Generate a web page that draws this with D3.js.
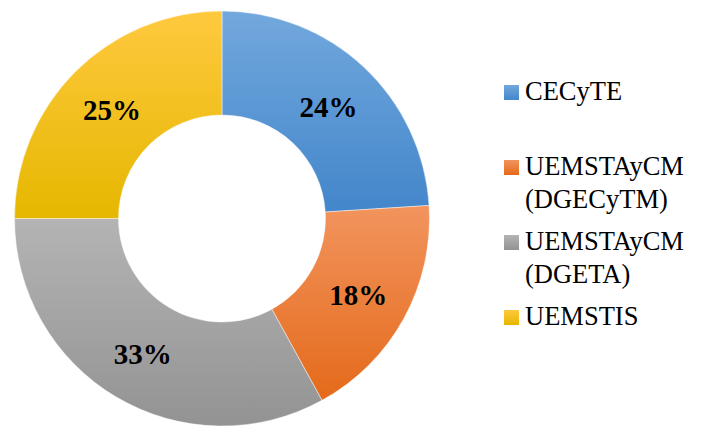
<!DOCTYPE html>
<html>
<head>
<meta charset="utf-8">
<script src="https://cdn.jsdelivr.net/npm/d3@7"></script>
<style>
  body { margin: 0; background: #fff; }
  #chart { position: relative; width: 702px; height: 433px; }
  #chart svg { position: absolute; left: 0; top: 0; }
  .keyText { position: absolute; font-family: "Liberation Serif", "Times New Roman", serif; font-size: 26.5px; line-height: 32.5px; color: #000; white-space: nowrap; }
</style>
</head>
<body>
<div id="chart"></div>
<script>
// Data
var categories = ["CECyTE", "UEMSTAyCM (DGECyTM)", "UEMSTAyCM (DGETA)", "UEMSTIS"];
var values = [24, 18, 33, 25];

// Colours: top / bottom of each slice gradient
var colorsTop = ["#72a8dd", "#f2945e", "#b4b4b4", "#ffc93f"];
var colorsBottom = ["#4386ca", "#e46a1a", "#939393", "#e6b700"];

var width = 702;
var height = 433;
var cx = 222;
var cy = 218.5;
var outerR = 207.5;
var innerR = 103.5;
var serif = "'Liberation Serif', 'Times New Roman', serif";

var svg = d3.select("#chart")
  .append("svg")
  .attr("width", width)
  .attr("height", height);

var defs = svg.append("defs");

categories.forEach(function(c, i) {
  var grad = defs.append("linearGradient")
    .attr("id", "grad" + i)
    .attr("x1", 0).attr("y1", 0)
    .attr("x2", 0).attr("y2", 1);
  grad.append("stop").attr("offset", "0%").attr("stop-color", colorsTop[i]);
  grad.append("stop").attr("offset", "100%").attr("stop-color", colorsBottom[i]);
});

var pie = d3.pie().sort(null).value(function(d) { return d; });
var arc = d3.arc().innerRadius(innerR).outerRadius(outerR);

var arcs = pie(values);

var g = svg.append("g").attr("transform", "translate(" + cx + "," + cy + ")");

g.selectAll("path.slice")
  .data(arcs)
  .enter()
  .append("path")
  .attr("class", "slice")
  .attr("d", arc)
  .attr("fill", function(d, i) { return "url(#grad" + i + ")"; })
  .attr("stroke", "#fff")
  .attr("stroke-opacity", 0.6)
  .attr("stroke-width", 0.75);

g.selectAll("text.pctLabel")
  .data(arcs)
  .enter()
  .append("text")
  .attr("class", "pctLabel")
  .attr("text-anchor", "middle")
  .attr("x", function(d) { return arc.centroid(d)[0]; })
  .attr("y", function(d) { return arc.centroid(d)[1]; })
  .attr("dy", "0.4em")
  .style("font-family", serif)
  .style("font-weight", "bold")
  .style("font-size", "29px")
  .style("fill", "#000")
  .text(function(d) { return d.value + "%"; });

// Key (right side): swatches in the svg, names as html text
var keyX = 504;
var keyTop = 100;      // baseline of first entry
var slotH = 75;
var boxSize = 15;
var baselineOffset = 25;  // baseline distance from top of the html line box

var key = svg.append("g");

categories.forEach(function(c, i) {
  var y = keyTop + i * slotH;

  key.append("rect")
    .attr("x", keyX)
    .attr("y", y - boxSize)
    .attr("width", boxSize)
    .attr("height", boxSize)
    .attr("fill", "url(#grad" + i + ")");

  var div = d3.select("#chart")
    .append("div")
    .attr("class", "keyText")
    .style("left", (keyX + 21) + "px")
    .style("top", (y - baselineOffset) + "px");

  c.split(" ").forEach(function(w, j) {
    if (j > 0) div.append("br");
    div.append("span").text(w);
  });
});
</script>
</body>
</html>
